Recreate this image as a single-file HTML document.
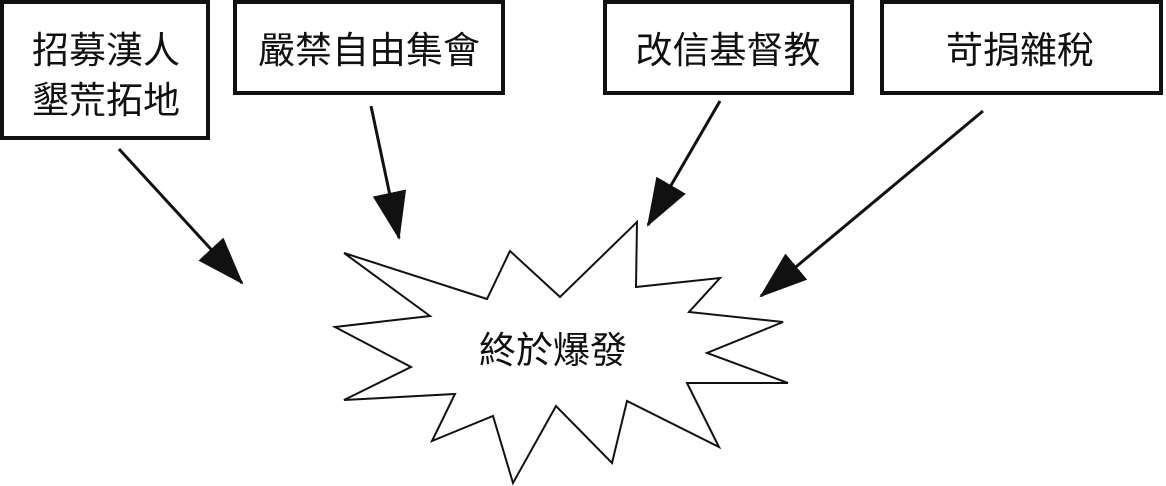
<!DOCTYPE html>
<html><head><meta charset="utf-8"><style>
html,body{margin:0;padding:0;background:#fff;}
svg{display:block;}
text{font-family:"Liberation Sans","Noto Sans CJK TC",sans-serif;font-size:37px;fill:#111;}
</style></head><body>
<svg width="1166" height="486" viewBox="0 0 1166 486" xmlns="http://www.w3.org/2000/svg">
<defs>
<marker id="ah" markerUnits="userSpaceOnUse" markerWidth="48" markerHeight="34" refX="46" refY="17" orient="auto">
<path d="M0,0 L48,17 L0,34 Z" fill="#111"/>
</marker>
</defs>
<g fill="#fff" stroke="#111" stroke-width="4">
<rect x="2" y="2" width="206" height="136"/>
<rect x="235" y="2" width="268" height="91"/>
<rect x="605" y="2" width="247" height="91"/>
<rect x="882" y="2" width="279" height="91"/>
</g>
<text x="106" y="63" text-anchor="middle">招募漢人</text>
<text x="106" y="113" text-anchor="middle">墾荒拓地</text>
<text x="369" y="63" text-anchor="middle">嚴禁自由集會</text>
<text x="728" y="63" text-anchor="middle">改信基督教</text>
<text x="1020" y="63" text-anchor="middle">苛捐雜稅</text>
<g stroke="#111" stroke-width="3" marker-end="url(#ah)">
<line x1="119" y1="149" x2="242" y2="283"/>
<line x1="371" y1="106" x2="399" y2="238"/>
<line x1="720" y1="101" x2="648" y2="225"/>
<line x1="983" y1="111" x2="761" y2="296"/>
</g>
<polygon fill="#fff" stroke="#111" stroke-width="2" points="344,253 487,299 510,251 560,297 637,222 636,287 720,278 689,312 783,322 707,353 788,383 687,383 719,447 627,401 612,463 556,406 513,483 493,416 432,441 455,394 344,400 411,367 335,327 430,316"/>
<text x="553" y="363" text-anchor="middle">終於爆發</text>
</svg>
</body></html>
